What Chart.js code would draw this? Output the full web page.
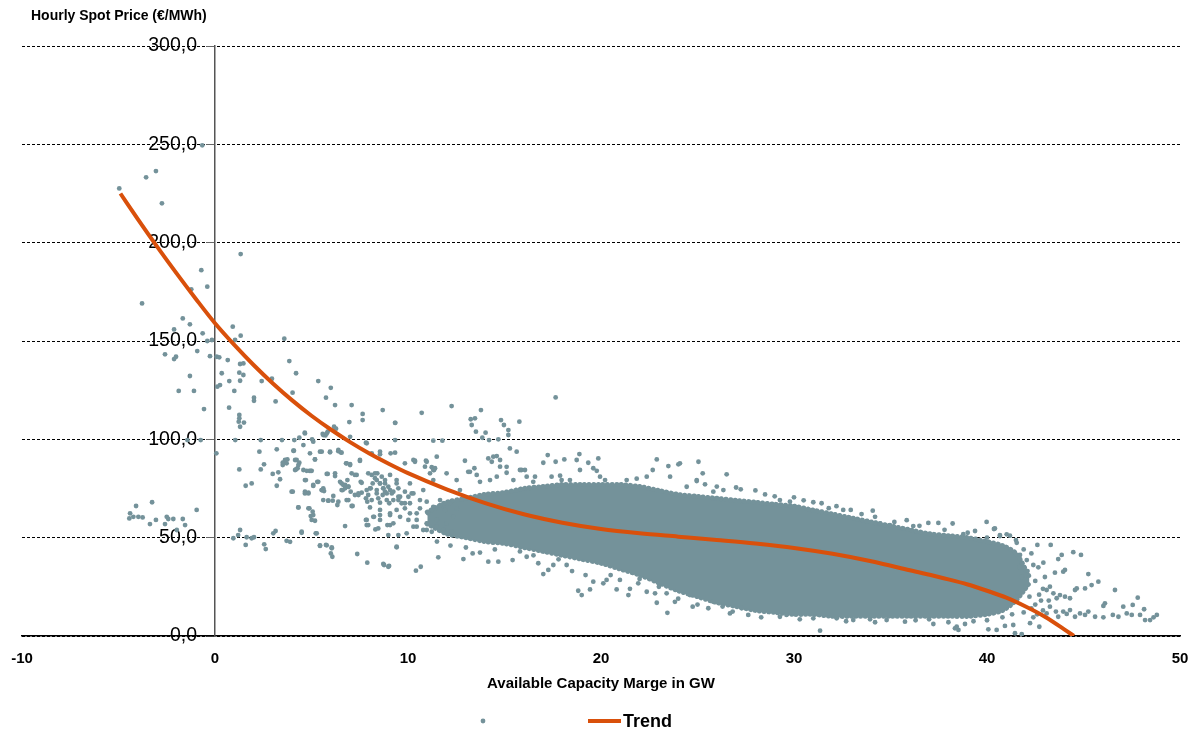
<!DOCTYPE html>
<html>
<head>
<meta charset="utf-8">
<script src="https://cdn.jsdelivr.net/npm/chart.js@4.4.1/dist/chart.umd.min.js"></script>
<style>
  html, body { margin: 0; padding: 0; background: #fff; }
</style>
</head>
<body>
<canvas id="myChart" width="1201" height="733"></canvas>
<script>
// texts
const chartTitle = 'Hourly Spot Price (€/MWh)';
const xTitle = 'Available Capacity Marge in GW';
const trendLabel = 'Trend';

// axis ranges / ticks
const xTicks = [-10, 0, 10, 20, 30, 40, 50];
const yTicks = [0, 50, 100, 150, 200, 250, 300];

// trend line
const trendX = [-4.9, -4, -3, -2, -1, 0, 1, 2, 3, 4, 5, 6, 7, 8, 9, 10, 12, 14, 16, 18, 20, 22, 24, 26, 28, 30, 32, 34, 36, 38, 39, 40, 41, 42, 43, 44, 44.5];
const trendY = [225, 212, 198, 184.5, 171.5, 159, 148, 137.8, 128.4, 119.8, 112, 105, 98.6, 92.8, 87.6, 82.8, 74.6, 67.6, 61.9, 57.6, 54.4, 52.2, 50.5, 48.8, 47, 44.8, 41.8, 38, 33.4, 28.8, 26.2, 23, 19.5, 15, 9.8, 3.4, 0];

// dense core of the cloud: upper and lower edge
const coreX    = [11, 12, 13, 14, 15, 16, 17, 18, 19, 20, 21, 22, 23, 24, 25, 26, 27, 28, 29, 30, 31, 32, 33, 34, 35, 36, 37, 38, 39, 40, 40.8, 41.5, 42.2];
const coreHigh = [63, 68, 70, 72, 73, 75, 76, 77, 77, 77, 77, 76, 74, 72, 71, 70, 69, 68, 67, 66, 64, 62, 60, 58, 56, 54, 52, 51, 50, 48, 46, 42, 30];
const coreLow  = [57, 52, 50, 48, 47, 45, 43, 41, 39, 37, 34, 31, 27, 23, 20, 17, 15, 13, 12, 11, 11, 10, 10, 10, 10, 10, 10, 10, 10, 11, 13, 18, 27];

// single hours
const leftDots = [
  [-4.96,227.6],[-3.57,233.2],[-3.06,236.4],[-2.75,220],[-0.66,249.5],
  [-0.71,186],[-0.4,177.6],[-1.23,176.3],[-3.78,169.1],[-1.67,161.5],[-1.3,158.5],[-2.12,155.9],[-0.64,153.9],
  [-0.4,150],[-0.16,150.5],[-0.92,144.9],[-2.59,143.2],[-2.02,142],[-2.12,140.8],[-0.26,142.3],[-1.3,132.2],
  [-1.88,124.6],[-1.09,124.6],[-0.57,115.4],[-0.74,99.6],[-1.43,99.6],
  [-4.09,66.1],[-4.4,62.4],[-4.44,59.8],[-4.23,60.6],[-3.97,60.6],[-3.75,60.3],[-3.26,68],[-3.37,56.9],[-3.06,59],
  [-2.5,60.6],[-2.42,59.5],[-2.16,59.5],[-2.59,56.9],[-1.67,59.5],[-1.98,53.9],[-1.55,56.4],[-0.95,64.1]
];
const lowDots = [
  [1.33,194.2],[0.92,157.3],[1.33,152.7],[1.04,150.5],[3.59,151.2],[0.09,142],[0.22,141.7],[0.66,140.3],[1.3,138.3],
  [1.47,138.6],[3.85,139.8],[1.26,133.9],[1.47,132.7],[0.35,133.6],[4.2,133.6],[2.95,130.8],[5.35,129.6],[6.0,126.2],
  [0.26,127.6],[0.12,126.8],[0.74,129.6],[1.3,129.8],[2.42,129.6],[1.0,124.6],[4.02,123.7],[2.02,121.2],[2.02,119.6],
  [3.14,119.3],[5.75,121.2],[6.22,117.4],[7.08,117.4],[0.73,116.1],[8.69,114.9],[7.65,112.9],[7.65,109.8],[1.26,112.4],
  [1.26,110.7],[1.23,109],[1.3,106.4],[1.5,108.5],[9.34,108.4],[6.96,108.8],[6.17,106.4],[6.27,105.4],[5.58,102.7],
  [5.72,102],[5.84,103.9],[4.65,103.4],[7.0,101.3],[4.37,100.8],[4.11,99.6],[3.47,99.6],[2.37,99.6],[1.05,99.6],
  [5.03,100],[7.86,98],[0.07,92.9],[1.26,84.7],[1.59,76.4],[1.9,77.6],
  [0.95,49.7],[1.3,53.9],[1.2,51.3],[1.59,46.3],[1.64,50.2],[1.9,49.7],[2.02,50.2],[2.55,46.6],[2.63,44.2],[3.02,52.2],
  [3.14,53.4],[3.71,48.4],[3.89,47.9],[4.49,52.5],[5.22,52.2],[5.44,46.1],[5.79,46.1],[6.05,44.6],[6.08,40.3],[6.0,42],
  [6.74,55.9],[7.37,41.7],[7.89,37.3],[8.76,36.1],[9.02,35.6],[9.41,45.1]
];
const midDots = [
  [2.37,84.7],[2.54,87.3],[2.3,93.7],[2.99,82.4],[3.28,83.2],[3.37,79.7],[3.2,76.4],[3.51,86.9],[3.63,89.1],[3.75,89.8],
  [3.2,94.9],[4.06,94.2],[4.23,89.5],[4.37,88.1],[4.15,84.4],[4.28,85.3],[4.58,84.4],[4.89,84],[4.96,84],[3.97,73.4],
  [4.32,65.4],[4.66,73.4],[4.84,72.9],[4.89,64.9],[5.06,63.2],[4.96,61],[5.18,58.6],[4.66,79.3],[5.09,76.8],[5.3,78.4],
  [5.18,89.8],[5.44,93.7],[5.96,93.4],[6.39,94],[6.51,93.4],[5.53,74.2],[5.65,73.7],[5.84,82.4],[6.22,81.3],[5.87,68.8],
  [6.1,68.8],[6.39,68.3],[6.34,66.6],[6.56,77.6],[6.74,76.8],[6.91,75.9],[6.62,74.2],[6.86,79.3],[7.03,73.4],[6.79,87.8],
  [7.0,87.4],[6.82,69.1],[7.13,66.1],[7.34,81.9],[7.55,78.4],[7.51,89],[7.25,71.7],[7.43,72.5],[7.6,72.9],[7.82,70],
  [7.89,68.3],[7.86,74.2],[8.03,75.1],[7.82,59],[7.86,56.4],[8.24,60.6],[8.31,54.2],[8.55,64.1],[8.12,81.9],[8.29,80.2],
  [8.41,82.7],[8.64,81],[8.17,77.6],[8.55,77.6],[8.72,75.1],[8.38,72.5],[8.69,71.7],[8.9,69.1],[8.81,73.4],[8.55,93.7],
  [9.1,92.9],[9.33,99.6],[9.07,61.5],[8.93,56.4],[9.03,67.5],[9.24,73.4],[9.41,77.6],[9.5,69.1],
  [8.81,77.6],[8.9,72.5],[9.07,74.2],[9.41,79.3],[9.59,70.8],[9.84,67.5],[10.1,77.6],[10.19,72.5],[9.24,57.3],[9.07,62.4],
  [8.55,59],[9.5,51.3],[9.93,52.2],[10.28,55.6],[10.45,62.4],[10.62,69.1],[10.79,74.2],[10.02,59],[10.97,53.9],[11.31,79.3],
  [11.14,82.7],[8.72,36.6],[8.98,35.2],[10.41,33.2],[10.66,35.2],[11.57,40],[9.33,108.4],[10.71,113.5]
];
const clusterDots = [
  [3.63,89.5],[3.51,88.1],[3.71,87.8],[4.15,89.5],[4.32,86.9],[4.2,84.7],[4.66,103],[4.58,97.1],[4.09,94.2],[4.92,92.9],
  [5.18,89.8],[5.09,98.8],[4.75,84],[5.01,84],[4.71,79.3],[4.03,73.4],[4.66,72.5],[4.84,72.5],[5.09,76.3],[5.35,78.4],
  [5.53,93.7],[5.96,93.7],[5.61,102.2],[5.79,103],[5.53,74.2],[5.61,75.1],[4.32,65.4],[4.84,64.9],[5.09,61.5],[5.01,59],
  [4.49,53],[5.27,52.2],[5.61,69.1],[5.87,68.8],[6.13,71.2],[5.79,82.4],[6.22,82.7],[6.39,94.6],[6.56,93.2],[6.48,78.4],
  [6.65,76.8],[6.74,75.1],[6.91,75.9],[6.56,74.2],[6.82,87.8],[7.0,86.9],[7.08,82.7],[7.25,81.9],[6.91,69.1],[7.08,66.1],
  [7.43,71.7],[7.6,77.9],[7.51,89.5],[7.82,98.3],[8.12,92.9],[8.55,92.4],[7.94,82.7],[8.07,75.1],[8.29,82.7],[8.38,79.3],
  [8.55,77.6],[8.38,74.2],[8.72,75.1],[7.94,71.7],[8.12,69.1],[8.46,70],[8.55,67.8],[8.03,65.4],[8.2,60.6],[8.55,61.5],
  [7.86,59],[7.94,56.4],[8.46,54.7],[9.07,56.4],[8.98,51.3],[8.81,79.3],[8.98,75.9],[9.16,72.5],[9.24,69.1],[9.5,75.1],
  [9.5,70.8],[9.67,67.5],[9.84,73.4],[10.02,70.8],[10.1,67.5],[10.28,72.5],[9.41,64.1],[9.59,60.6],[9.84,64.9],[10.1,62.4],
  [10.45,59],[10.62,64.9],[10.97,68.3],[11.05,62.4],[11.31,65.7],[11.49,59],[11.66,69.1],[11.92,64.1],[12.17,67.5],[12.35,60.6],
  [12.52,64.9],[10.45,55.6],[10.79,53.9],[10.97,57.3],[11.23,53],[11.49,55.6],[11.83,53.9],[12.0,57.3],[12.26,53],[10.88,86.1],
  [11.31,84.4],[11.49,91.2],[10.36,88.6],[9.84,87.8],[9.33,93.2],[9.07,81.9],[5.44,45.8],[5.75,46.3],[6.05,45.1],[9.41,45.4]
];
const upperDots = [
  [12.26,116.9],[17.65,121.3],[13.78,114.9],[13.25,110.2],[13.47,110.7],[13.3,107.3],[13.52,103.9],[14.82,109.8],[14.97,107.3],
  [15.2,104.7],[15.2,102.2],[15.77,109],[14.02,103.4],[13.85,100.8],[14.2,99.6],[14.68,100],[11.31,99.3],[11.78,99.3],
  [15.28,95.4],[15.63,93.7],[14.16,90.3],[14.42,91.2],[14.6,91.5],[14.77,89.5],[14.34,88.6],[12.95,89.1],[13.12,83.5],
  [13.44,85.3],[10.36,89.1],[10.93,89.1],[11.23,85.8],[11.35,84.4],[17.01,88.1],[17.24,92],[17.65,88.6],[18.1,89.8],
  [18.88,92.5],[18.74,89.5],[19.34,88.1],[19.86,90.3],[19.6,85.3],[19.78,84],[22.89,89.8],[23.49,86.4],[24.01,87.3],[25.05,88.6],
  [15.11,86],[15.88,84.4],[16.06,84.4],[16.58,81],[17.44,81],[17.88,81.5],[17.96,79.3],[18.39,79.3],[18.91,84.4],[19.95,81],
  [20.21,79.3],[21.33,79.3],[21.85,80],[22.37,81],[22.68,84.4],[23.58,81],[24.44,75.9],[24.96,79.3],
  [10.28,89.5],[10.97,88.6],[11.4,85.3],[12.0,82.7],[12.52,79.3],[12.69,74.2],[13.21,83.5],[13.56,81.9],[13.73,78.4],[14.25,79.3],
  [14.6,81],[14.77,86.1],[15.11,83],[15.46,79.3],[15.8,84.4],[16.15,81],[16.49,78.4],
  [24.09,87.8],[25.27,82.7],[24.96,78.8],[25.39,77.1],[26.51,82.2],[27.24,74.6],[26.34,74.2],[25.82,73.4],
  [29.27,69.1],[29.79,68.3],[31.43,67.5],[32.55,64.1],[32.94,64.1],[34.08,63.7],[34.2,60.6],[34.46,57.2],[34.97,56.4],
  [35.84,58.9],[36.18,55.9],[36.96,57.5],[37.48,57.5],[38.22,57.2],[38.77,51.8],[39.38,53.4],[39.98,58],[40.41,54.7],[40.67,51.3],
  [26,76],[27,75.5],[28,74],[28.5,72],[29,71],[30,70.5],[30.5,69],[31,68],[31.8,65],[32.2,66],[33.5,62],[35.2,58],
  [36.5,56],[37.8,54],[39,52.5],[40,50]
];
const lowerDots = [
  [12.87,39.1],[13.35,42],[13.73,42.4],[14.16,37.8],[14.68,37.8],[15.42,38.6],[16.15,40.3],[16.75,37],[17.01,31.5],[17.27,33.6],
  [17.53,36.1],[18.22,36.1],[18.82,23],[19.0,20.8],[19.43,23.7],[19.6,27.6],[20.12,26.8],[20.29,28.5],[20.81,23.7],[20.98,28.5],
  [21.42,20.8],[21.93,26.8],[22.37,22.5],[22.8,21.7],[23.44,11.8],[22.89,16.9],[23.4,21.7],[23.83,17.4],[24.75,14.9],[24.61,20.8],
  [11.5,48],[12.2,46],[13,45],[14.5,44],[15.8,43],[16.5,41],[17.8,39],[18.5,33],[19.2,31],[20.5,31],[21.5,24],[22,29],
  [23,25],[24,19],[25,16],[25.8,17.5],[26.3,15],
  [25.56,14.1],[26.68,11.5],[26.82,12.4],[27.29,14.1],[27.63,10.7],[29.27,9.8],[29.61,10.7],[31.35,2.7],[32.21,9],
  [33.07,8.1],[33.94,8.5],[34.8,8.1],[35.75,7.3],[37.22,6.1],[38.34,3.9],[38.52,3.1],[38.86,6.1],[40.07,3.4],[40.5,3.1],
  [28.3,9.5],[30.3,8.5],[31,9],[32.7,7.5],[34.2,7],[36.3,8],[37,8.5],[38,7],[39.3,7.5],[40,8],[40.8,9.5],[41.3,11]
];
const tailDots = [
  [40.36,54.4],[40.67,50.8],[41.02,51.7],[41.19,51],[41.5,48.8],[41.54,47.4],[41.71,41.2],[42.06,38.6],[42.4,36.1],
  [42.66,34.9],[42.92,37.3],[42.61,46.3],[43.3,46.3],[43.69,39.1],[43.87,41.2],[44.47,42.6],[44.87,41.2],[43.52,32.2],[43.95,32.7],
  [44.04,33.6],[45.25,31.5],[45.77,27.6],[45.42,25.9],[45.08,24.2],[44.65,24.2],[46.63,23.4],[47.81,19.5],[48.14,13.6],[48.19,8.1],
  [48.45,8.1],[48.63,9.5],[48.8,10.7],[46.11,16.6],[46.03,15.3],[47.06,14.9],[47.55,15.8],[47.93,10.7],[47.5,10.7],[47.24,11.5],
  [46.81,9.8],[46.52,10.7],[46.03,9.5],[45.6,9.8],[45.25,12.4],[45.08,10.7],[44.82,11.5],[44.56,9.8],[44.3,13.2],[44.13,11.2],
  [43.95,12.4],[43.69,9.8],[43.57,12.4],[43.26,14.9],[43.09,11.5],[44.3,19.2],[44.04,20],[43.78,20.8],[43.61,19.2],[43.44,21.7],
  [43.26,25.1],[43.09,23.4],[44.56,23.4],[38.43,4.7],[40.93,5.1],[41.36,5.6],[41.45,1.4],[41.8,1],[42.23,6.5],[42.71,4.7],
  [41.8,30],[42,25],[42.2,20],[42.5,28],[42.8,18],[42.3,14],[41.9,12],[42.6,11],[42.9,24],[43,30],[41.6,22],[42.1,33],
  [42.4,9.5],[42.9,13],[41.7,35],[42.3,42],[41.9,44],[42.7,21],[43.2,18],[42.5,16]
];

const DOT = '#74929a';
const ORANGE = '#d9500b';
const FONT = "'Liberation Sans', Arial, sans-serif";

Chart.defaults.font.family = FONT;
Chart.defaults.color = '#000';

const allDots = [].concat(leftDots, lowDots, midDots, clusterDots, upperDots, lowerDots, tailDots)
  .map(p => ({x: p[0], y: p[1]}));

// y labels sit left of the axis that crosses at x = 0
const shiftYLabels = {
  id: 'shiftYLabels',
  beforeDraw(chart) {
    const s = chart.scales.y;
    const gap = s.options.grid.tickLength + s.options.ticks.padding;
    s.getLabelItems().forEach(it => {
      if (!it.shifted) { it.options.translation[0] -= gap; it.shifted = true; }
    });
  }
};

// title and legend, drawn like the original (legend entry of the dots has no name)
const decor = {
  id: 'decor',
  afterDraw(chart) {
    const ctx = chart.ctx;
    const cx = (chart.chartArea.left + chart.chartArea.right) / 2;
    const ly = 721;
    ctx.save();
    ctx.fillStyle = '#000';
    ctx.font = 'bold 14px ' + FONT;
    ctx.fillText(chartTitle, 31, 20);

    ctx.fillStyle = DOT;
    ctx.beginPath();
    ctx.arc(cx - 118, ly, 2.4, 0, Math.PI * 2);
    ctx.fill();

    ctx.strokeStyle = ORANGE;
    ctx.lineWidth = 4;
    ctx.beginPath();
    ctx.moveTo(cx - 13, ly);
    ctx.lineTo(cx + 20, ly);
    ctx.stroke();

    ctx.fillStyle = '#000';
    ctx.font = 'bold 18px ' + FONT;
    ctx.fillText(chart.data.datasets[0].label, cx + 22, ly + 6);
    ctx.restore();
  }
};

var ctx = document.getElementById('myChart').getContext('2d');
let config = {
  type: 'scatter',
  data: {
    datasets: [
      {
        type: 'line',
        label: trendLabel,
        data: trendX.map((x, i) => ({x: x, y: trendY[i]})),
        borderColor: ORANGE,
        borderWidth: 4,
        pointRadius: 0,
        cubicInterpolationMode: 'monotone',
        fill: false,
        order: 0
      },
      {
        label: '',
        data: allDots,
        backgroundColor: DOT,
        borderColor: DOT,
        borderWidth: 0,
        pointRadius: 2.4,
        order: 1
      },
      {
        type: 'line',
        label: 'core',
        data: coreX.map((x, i) => ({x: x, y: coreHigh[i]})),
        borderColor: DOT,
        backgroundColor: DOT,
        borderWidth: 5,
        borderDash: [0.1, 4.5],
        borderCapStyle: 'round',
        pointRadius: 0,
        tension: 0.3,
        fill: '+1',
        order: 2
      },
      {
        type: 'line',
        label: 'core2',
        data: coreX.map((x, i) => ({x: x, y: coreLow[i]})),
        borderColor: DOT,
        borderWidth: 5,
        borderDash: [0.1, 4.5],
        borderCapStyle: 'round',
        pointRadius: 0,
        tension: 0.3,
        fill: false,
        order: 2
      }
    ]
  },
  options: {
    responsive: false,
    animation: false,
    layout: { padding: { left: 22, right: 21, top: 46, bottom: 40 } },
    plugins: {
      legend: { display: false },
      title: { display: false },
      tooltip: { enabled: false }
    },
    scales: {
      x: {
        type: 'linear',
        min: xTicks[0],
        max: xTicks[xTicks.length - 1],
        afterBuildTicks: s => { s.ticks = xTicks.map(v => ({value: v})); },
        ticks: { font: { size: 15, weight: 'bold' }, padding: 4, color: '#000' },
        grid: { display: false, drawTicks: true, tickLength: 10 },
        border: { display: true, color: '#000', width: 1.5 },
        title: {
          display: true,
          text: xTitle,
          color: '#000',
          font: { size: 15, weight: 'bold' },
          padding: { top: 3, bottom: 0 }
        }
      },
      y: {
        type: 'linear',
        min: yTicks[0],
        max: yTicks[yTicks.length - 1],
        position: { x: 0 },
        afterBuildTicks: s => { s.ticks = yTicks.map(v => ({value: v})); },
        ticks: {
          font: { size: 19.5 },
          padding: 10,
          color: '#000',
          callback: v => v.toFixed(1).replace('.', ',')
        },
        grid: { color: '#000', lineWidth: 1, tickLength: 8, tickColor: '#666' },
        border: { display: true, color: '#555', width: 1.5, dash: [3, 2] }
      }
    }
  },
  plugins: [shiftYLabels, decor]
};

var myChart = new Chart(ctx, config);
</script>
</body>
</html>
